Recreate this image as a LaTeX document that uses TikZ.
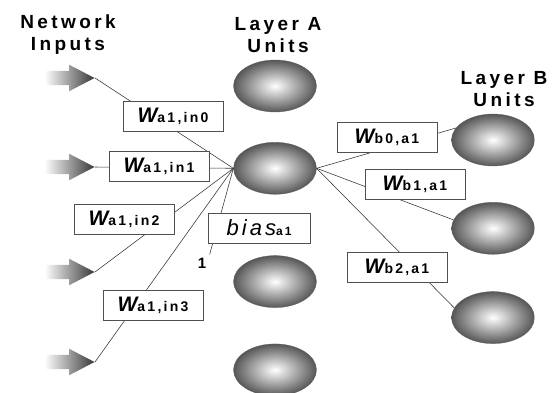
\documentclass[tikz,border=0pt]{standalone}
\usepackage{fontspec}
\usetikzlibrary{shapes.geometric,shapes.arrows,positioning}
\setsansfont{Liberation Sans}
\newfontfamily\headfont[LetterSpace=18]{Liberation Sans}
\newfontfamily\wfont[LetterSpace=5]{Liberation Sans}
\newfontfamily\subfont[LetterSpace=16]{Liberation Sans}
\newfontfamily\biasfont[LetterSpace=14]{Liberation Sans}
\definecolor{linegray}{RGB}{50,50,50}
\definecolor{boxgray}{RGB}{80,80,80}
\newcommand{\weightlbl}[1]{{\wfont\fontsize{21}{21}\selectfont\bfseries\itshape W}{\subfont\fontsize{14}{14}\selectfont\bfseries #1}}
\tikzset{
	every node/.style={font=\sffamily}
}
\tikzset{
	x=1pt,y=-1pt,
	title/.style={font=\headfont\bfseries\fontsize{19}{22}\selectfont,align=center},
	unit/.style={ellipse,minimum width=83pt,minimum height=52pt,inner sep=0pt,
		inner color=white,outer color=black!66,draw=black!62,line width=0.3pt},
	inarrow/.style={single arrow,single arrow head extend=6pt,single arrow tip angle=55,
		minimum height=50pt,minimum width=26pt,inner sep=7pt,left color=white,right color=black!78},
	wbox/.style={draw=boxgray,fill=white,minimum width=100pt,minimum height=30pt,inner sep=1pt,line width=0.6pt},
	conn/.style={draw=linegray,line width=0.55pt}
}
\begin{document}
\begin{tikzpicture}
      \useasboundingbox (0,0) rectangle (557,393);
      % titles
      \node[title] (inlbl) at (68,35) {Network\\Inputs};
      \node[title] (alabel) at (278,35) {Layer A\\Units};
      \node[title] (blabel) at (504,89) {Layer B\\Units};
      % layer A
      \node[unit] (a0) at (275,86) {};
      \node[unit] (a1) [below = 30pt of a0] {};
      \node[unit] (a2) [below = 61pt of a1] {};
      \node[unit] (a3) [below = 36pt of a2] {};
      % layer B
      \node[unit] (b0) at (493,140) {};
      \node[unit] (b1) [below = 36pt of b0] {};
      \node[unit] (b2) [below = 37pt of b1] {};
      % inputs
      \node[inarrow,anchor=tip] (i0) at (95,78) {};
      \node[inarrow,anchor=tip] (i1) at (95,167) {};
      \node[inarrow,anchor=tip] (i2) at (95,272) {};
      \node[inarrow,anchor=tip] (i3) at (95,362) {};
      \node[font=\sffamily\bfseries\fontsize{15}{15}\selectfont] (one) at (202,263) {1};
      % connections
      \path[conn] (i0.tip) -- (a1.west);
      \path[conn] (i1.tip) -- (a1.west);
      \path[conn] (i2.tip) -- (a1.west);
      \path[conn] (i3.tip) -- (a1.west);
      \path[conn] (one.north east) -- (a1.west);
      \path[conn] (a1.east) -- (b0.162);
      \path[conn] (a1.east) -- (b1.168);
      \path[conn] (a1.east) -- (b2.166);
      % weights
      \node[wbox] (win0) at (173,116) {\weightlbl{a1,in0}};
      \node[wbox] (win1) at (159,166) {\weightlbl{a1,in1}};
      \node[wbox] (win2) at (124,219) {\weightlbl{a1,in2}};
      \node[wbox] (win3) at (153,305) {\weightlbl{a1,in3}};
      \node[wbox,minimum width=102pt] (bias) at (259,228) {{\biasfont\fontsize{22}{22}\selectfont\itshape bias}{\subfont\fontsize{12}{12}\selectfont\bfseries a1}};
      \node[wbox] (wb0) at (387,137) {\weightlbl{b0,a1}};
      \node[wbox] (wb1) at (415,184) {\weightlbl{b1,a1}};
      \node[wbox] (wb2) at (397,267) {\weightlbl{b2,a1}};
\end{tikzpicture}
\end{document}
